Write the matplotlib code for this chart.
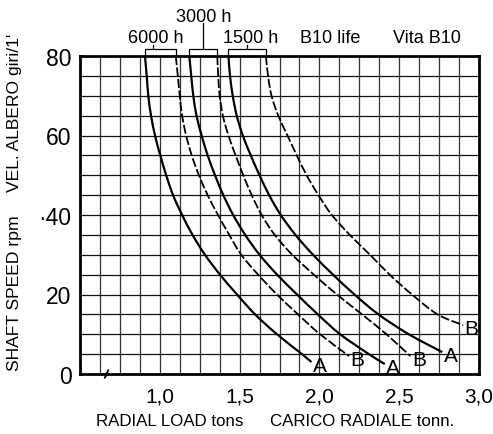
import matplotlib
matplotlib.use('Agg')
from matplotlib import pyplot as plt
from matplotlib import transforms
from matplotlib.path import Path
from matplotlib.patches import PathPatch

plt.rcParams['font.family'] = ['Liberation Sans', 'DejaVu Sans']

# curve data: shaft speed (rpm) vs radial load (tons)
rpm_a1 = [80, 75, 70, 65, 60, 55, 50, 45, 40, 35, 30, 25, 20, 15, 10, 5, 3]
load_a1 = [0.907, 0.918, 0.928, 0.945, 0.97, 1.003, 1.04, 1.083, 1.14, 1.205,
           1.283, 1.377, 1.484, 1.597, 1.734, 1.891, 1.95]

rpm_b1 = [80, 75, 70, 65, 60, 55, 50, 45, 40, 35, 30, 25, 20, 15, 10, 4.5]
load_b1 = [1.10, 1.113, 1.125, 1.14, 1.165, 1.20, 1.245, 1.30, 1.365, 1.435,
           1.51, 1.616, 1.734, 1.866, 2.004, 2.186]

rpm_a2 = [80, 75, 70, 65, 60, 55, 50, 45, 40, 35, 30, 25, 20, 15, 10, 5, 2.5]
load_a2 = [1.185, 1.197, 1.21, 1.23, 1.262, 1.30, 1.346, 1.398, 1.46, 1.535,
           1.625, 1.735, 1.86, 1.99, 2.13, 2.31, 2.41]

rpm_b2 = [80, 75, 70, 65, 60, 55, 50, 45, 40, 35, 30, 25, 20, 15, 10, 4.5]
load_b2 = [1.36, 1.366, 1.375, 1.395, 1.43, 1.475, 1.523, 1.576, 1.638, 1.72,
           1.83, 1.965, 2.11, 2.267, 2.42, 2.57]

rpm_a3 = [80, 75, 70, 65, 60, 55, 50, 45, 40, 35, 30, 25, 20, 15, 10, 5.5]
load_a3 = [1.43, 1.44, 1.457, 1.482, 1.52, 1.57, 1.625, 1.685, 1.758, 1.85,
           1.96, 2.085, 2.22, 2.37, 2.56, 2.77]

rpm_b3 = [80, 75, 70, 65, 60, 55, 50, 45, 40, 35, 30, 25, 20, 15, 12.3]
load_b3 = [1.665, 1.678, 1.70, 1.742, 1.80, 1.858, 1.92, 1.994, 2.078, 2.19,
           2.317, 2.44, 2.58, 2.74, 2.90]

life_labels = ['6000 h', '3000 h', '1500 h']
x_ticks = [1.0, 1.5, 2.0, 2.5, 3.0]
x_ticklabels = ['1,0', '1,5', '2,0', '2,5', '3,0']
y_ticks = [0, 20, 40, 60, 80]
y_ticklabels = ['0', '20', '·40', '60', '80']


def smooth_path(xs, ys):
    """catmull-rom through the read points, drawn as bezier segments"""
    pts = list(zip(xs, ys))
    verts = [pts[0]]
    codes = [Path.MOVETO]
    n = len(pts)
    for i in range(n - 1):
        p0 = pts[max(i - 1, 0)]
        p1 = pts[i]
        p2 = pts[i + 1]
        p3 = pts[min(i + 2, n - 1)]
        c1 = (p1[0] + (p2[0] - p0[0]) / 6, p1[1] + (p2[1] - p0[1]) / 6)
        c2 = (p2[0] - (p3[0] - p1[0]) / 6, p2[1] - (p3[1] - p1[1]) / 6)
        verts += [c1, c2, p2]
        codes += [Path.CURVE4] * 3
    return Path(verts, codes)


fig = plt.figure(figsize=(4.93, 4.35), dpi=100)
ax = fig.add_axes([80 / 493, 1 - 375 / 435, 399 / 493, 318 / 435])

ax.set_xlim(0.5, 3.0)
ax.set_ylim(0, 80)

# grid: 0.125 t columns, 5 rpm rows
for i in range(1, 20):
    ax.axvline(0.5 + i * 0.125, color='#333333', lw=0.9, zorder=1)
for i in range(1, 16):
    ax.axhline(i * 5, color='#111111', lw=0.9, zorder=1)

for s in ax.spines.values():
    s.set_linewidth(2.0)

ax.set_xticks(x_ticks)
ax.set_xticklabels(x_ticklabels, fontsize=15)
ax.set_yticks(y_ticks)
ax.set_yticklabels(y_ticklabels, fontsize=16.5)
ax.tick_params(length=0, pad=6)
ax.tick_params(axis='x', pad=9)

curves = [(load_a1, rpm_a1, 'A'), (load_b1, rpm_b1, 'B'),
          (load_a2, rpm_a2, 'A'), (load_b2, rpm_b2, 'B'),
          (load_a3, rpm_a3, 'A'), (load_b3, rpm_b3, 'B')]

for load, rpm, kind in curves:
    if kind == 'A':
        patch = PathPatch(smooth_path(load, rpm), fill=False, color='black', lw=1.6, zorder=3)
    else:
        patch = PathPatch(smooth_path(load, rpm), fill=False, color='black', lw=1.3,
                          linestyle=(0, (5, 1.4)), zorder=3)
    ax.add_patch(patch)
    ax.annotate(kind, (load[-1], rpm[-1]), xytext=(1, -2.5), textcoords='offset points',
                ha='left', va='center', fontsize=15, annotation_clip=False)

# brackets over the curve tops for each life
tick_frac = [0.26, 0.5, 0.5]
for k, lab in enumerate(life_labels):
    x0 = curves[2 * k][0][0]
    x1 = curves[2 * k + 1][0][0]
    xm = x0 + tick_frac[k] * (x1 - x0)
    ax.plot([x0, x0, x1, x1], [80, 81.8, 81.8, 80], color='black', lw=0.9, clip_on=False)
    if k == 1:
        ax.plot([xm, xm], [81.8, 88.2], color='black', lw=0.9, clip_on=False)
        ax.text(xm, 90.0, lab, ha='center', va='center', fontsize=13)
    else:
        ax.plot([xm, xm], [81.8, 82.8], color='black', lw=0.9, clip_on=False)
        ax.text(xm + 0.02, 84.6, lab, ha='center', va='center', fontsize=13)

ax.text(2.066, 84.6, 'B10 life', ha='center', va='center', fontsize=13)
ax.text(2.674, 84.6, 'Vita B10', ha='center', va='center', fontsize=13)

# axis break mark on the bottom line
tr = transforms.blended_transform_factory(ax.transData, ax.transAxes)
ax.plot([0.655, 0.668, 0.664, 0.677], [-0.012, 0.004, -0.006, 0.012],
        color='black', lw=1.2, transform=tr, clip_on=False, zorder=5)

# axis titles, english and italian parts
fig.text(170 / 493, 1 - 422 / 435, 'RADIAL LOAD tons', ha='center', va='center', fontsize=12.2)
fig.text(362 / 493, 1 - 422 / 435, 'CARICO RADIALE tonn.', ha='center', va='center', fontsize=12.2)
fig.text(15 / 493, 1 - 293 / 435, 'SHAFT SPEED rpm', rotation=90,
         ha='center', va='center', fontsize=12.6)
fig.text(15 / 493, 1 - 113 / 435, "VEL. ALBERO giri/1'", rotation=90,
         ha='center', va='center', fontsize=12.6)

plt.savefig('out.png', dpi=100)
